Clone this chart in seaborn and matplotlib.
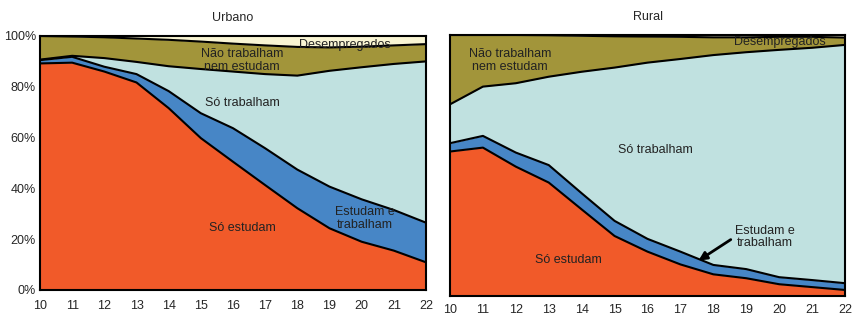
import numpy as np
import pandas as pd
import matplotlib
matplotlib.use("Agg")
import matplotlib.pyplot as plt
import seaborn as sns

sns.set_theme(style="white")
plt.rcParams["font.family"] = ["Liberation Sans", "DejaVu Sans"]

# Idades
idades = [10, 11, 12, 13, 14, 15, 16, 17, 18, 19, 20, 21, 22]

# Urbano (% de cada grupo)
urb_so_estudam = [89.2, 89.5, 86.0, 81.7, 71.6, 59.8, 50.5, 41.3, 32.2, 24.3, 19.0, 15.5, 10.9]
urb_estudam_trab = [1.3, 2.3, 1.9, 3.3, 6.7, 9.8, 13.2, 14.5, 15.2, 16.4, 16.7, 16.0, 15.6]
urb_so_trabalham = [0.2, 0.4, 3.4, 4.8, 9.8, 17.4, 22.3, 29.2, 37.0, 45.6, 52.0, 57.5, 63.5]
urb_nem_nem = [9.3, 7.6, 8.2, 9.2, 10.4, 10.8, 11.0, 11.3, 11.3, 9.2, 8.1, 7.3, 6.8]
urb_desempregados = [0.0, 0.2, 0.5, 1.0, 1.5, 2.2, 3.0, 3.7, 4.3, 4.5, 4.2, 3.7, 3.2]

# Rural (% de cada grupo)
rur_so_estudam = [55.3, 56.8, 49.5, 43.4, 33.1, 22.9, 16.9, 12.0, 8.2, 6.7, 4.4, 3.3, 2.2]
rur_estudam_trab = [3.2, 4.5, 5.4, 6.7, 6.2, 5.8, 4.9, 4.9, 3.6, 3.5, 2.7, 2.7, 2.6]
rur_so_trabalham = [14.9, 18.9, 26.6, 33.9, 46.6, 58.8, 67.6, 73.9, 80.5, 83.2, 87.2, 89.1, 91.4]
rur_nem_nem = [26.6, 19.8, 18.5, 15.9, 13.8, 12.0, 10.0, 8.5, 6.8, 5.7, 5.0, 4.2, 2.8]
rur_desempregados = [0.0, 0.0, 0.0, 0.1, 0.3, 0.5, 0.6, 0.7, 0.9, 1.0, 1.0, 1.0, 1.0]

grupos = ["Só estudam", "Estudam e trabalham", "Só trabalham",
          "Não trabalham nem estudam", "Desempregados"]
cores = ["#F15A29", "#4786C6", "#C0E1E0", "#A2953A", "#F9F5D3"]

df_urb = pd.DataFrame(dict(zip(grupos, [urb_so_estudam, urb_estudam_trab, urb_so_trabalham,
                                         urb_nem_nem, urb_desempregados])), index=idades) / 100
df_rur = pd.DataFrame(dict(zip(grupos, [rur_so_estudam, rur_estudam_trab, rur_so_trabalham,
                                         rur_nem_nem, rur_desempregados])), index=idades) / 100

W, H = 855, 315
fig = plt.figure(figsize=(W / 100, H / 100), dpi=100)
ax_u = fig.add_axes([40 / W, (H - 290) / H, 386 / W, 254 / H])
ax_r = fig.add_axes([450 / W, (H - 295.7) / H, 395 / W, 260.7 / H])


def desenha(ax, df, titulo):
    cum = df.cumsum(axis=1)
    base = np.zeros(len(df))
    for g, c in zip(grupos, cores):
        ax.fill_between(df.index, base, cum[g].values, color=c, linewidth=0)
        base = cum[g].values
    # linhas de fronteira
    for g in grupos[:-1]:
        sns.lineplot(x=df.index, y=cum[g].values, ax=ax, color="black", linewidth=1.5)
    ax.set_xlim(10, 22)
    ax.set_ylim(0, 1)
    ax.set_xticks(idades)
    ax.set_title(titulo, fontsize=9, pad=11)
    for s in ax.spines.values():
        s.set_color("black")
        s.set_linewidth(1.5)
    ax.tick_params(axis="x", labelsize=9, length=3, width=1, color="black", pad=4)
    ax.set_xlabel("")
    ax.set_ylabel("")


desenha(ax_u, df_urb, "Urbano")
ax_u.set_yticks([0, 0.2, 0.4, 0.6, 0.8, 1.0])
ax_u.set_yticklabels(["0%", "20%", "40%", "60%", "80%", "100%"])
ax_u.tick_params(axis="y", labelsize=9, length=0, pad=3)

desenha(ax_r, df_rur, "Rural")
ax_r.set_yticks([])
ax_r.tick_params(axis="x", length=0, pad=6)

fs = 9
kw = dict(ha="center", va="center", fontsize=fs, color="#222222", linespacing=1.1)
ax_u.text(16.28, 0.905, "Não trabalham\nnem estudam", **kw)
ax_u.text(19.48, 0.965, "Desempregados", **kw)
ax_u.text(16.28, 0.736, "Só trabalham", **kw)
ax_u.text(20.1, 0.283, "Estudam e\ntrabalham", **kw)
ax_u.text(16.28, 0.244, "Só estudam", **kw)

ax_r.text(11.82, 0.903, "Não trabalham\nnem estudam", **kw)
ax_r.text(20.03, 0.973, "Desempregados", **kw)
ax_r.text(16.23, 0.559, "Só trabalham", **kw)
ax_r.text(19.57, 0.225, "Estudam e\ntrabalham", **kw)
ax_r.text(13.59, 0.137, "Só estudam", **kw)
ax_r.annotate("", xy=(17.48, 0.129), xytext=(18.6, 0.221),
              arrowprops=dict(arrowstyle="-|>", color="black", lw=2, mutation_scale=12))

fig.savefig("out.png", dpi=100)
